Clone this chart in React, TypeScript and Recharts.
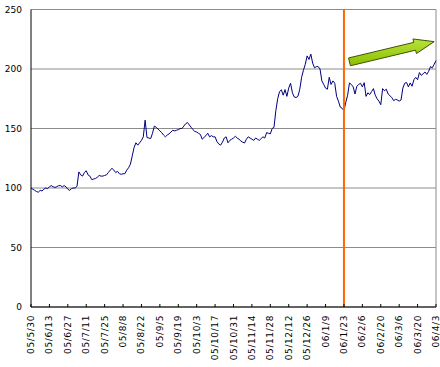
import React from 'react';
import { LineChart, Line, XAxis, YAxis, CartesianGrid, ReferenceLine } from 'recharts';

// Tick labels every 10 business days (two weeks)
const TICK_LABELS = [
  '05/5/30', '05/6/13', '05/6/27', '05/7/11', '05/7/25', '05/8/8', '05/8/22', '05/9/5',
  '05/9/19', '05/10/3', '05/10/17', '05/10/31', '05/11/14', '05/11/28', '05/12/12',
  '05/12/26', '06/1/9', '06/1/23', '06/2/6', '06/2/20', '06/3/6', '06/3/20', '06/4/3',
];

// Daily (business-day) index values
const VALUES = [
  100, 99, 98, 97, 96.5, 98, 97.5, 99, 100, 99.5,
  101, 102, 101, 100.5, 101, 102, 102, 101, 102, 101,
  99, 98, 99.5, 100, 100, 101.5, 113.5, 111, 110, 113,
  114.5, 111, 110, 107, 107.5, 108, 109, 110.5, 110, 110,
  110.5, 111, 113, 115, 116.5, 115, 113, 114, 112, 111.5,
  112, 112, 115, 117, 120, 127, 134, 138, 136, 138,
  140, 143, 157, 142.5, 142, 141.5, 146, 152, 151, 149.5,
  148, 146.5, 144.5, 143, 144.5, 145.5, 147, 148.5, 148, 148.5,
  149, 150, 150, 152, 154, 155, 153, 151, 149, 147.5,
  147, 146, 145, 141, 142.5, 144, 146, 143, 144, 143,
  143, 139, 137, 136, 138.5, 142, 143, 138, 140, 141,
  142, 143.5, 142, 141, 139.5, 138.5, 137.8, 141, 143, 142,
  141, 140, 142, 141, 140, 141.5, 143, 142, 146.5, 146,
  145.5, 150, 151, 165, 175, 181, 182.5, 178, 182.7, 177,
  184, 188, 180, 176.5, 176, 177, 183, 193, 199, 204,
  211, 208, 212.5, 205, 201, 202, 202, 200, 190, 187,
  184, 183, 193, 187, 190, 188, 177, 173, 168, 167,
  165, 172, 178, 188.3, 187, 185, 179, 185.5, 187, 188,
  185, 188.5, 177, 180, 178.5, 181, 183.5, 178, 175, 173,
  170, 183.5, 181.7, 183, 179, 177.5, 176, 173.4, 174.5, 174,
  173, 174, 184, 188, 188.7, 185, 188.3, 185.5, 191, 193,
  191, 197, 194.6, 196, 197.5, 195.5, 198, 202, 201, 204,
  207,
];

const Y_TICKS = [0, 50, 100, 150, 200, 250];
const MARKER_LABEL = '06/1/23';
const ARROW_FROM = { i: 173, v: 206 };
const ARROW_TO = { i: 219, v: 223 };

const data = VALUES.map((v, i) => ({ i, v }));
const xTicks = TICK_LABELS.map((_, k) => k * 10);
const markerX = TICK_LABELS.indexOf(MARKER_LABEL) * 10;

const FONT = '"DejaVu Sans", sans-serif';

const XTick = (props: any) => {
  const { x, y, payload } = props;
  const label = TICK_LABELS[Math.round(payload.value / 10)];
  return (
    <g>
      <line x1={x} y1={y - 3} x2={x} y2={y} stroke="#000" strokeWidth={1} />
      <text
        x={x}
        y={y + 8}
        transform={`rotate(-90, ${x}, ${y + 8})`}
        textAnchor="end"
        dominantBaseline="central"
        fontSize={9}
        letterSpacing={0.6}
        fontFamily={FONT}
        fill="#000"
      >
        {label}
      </text>
    </g>
  );
};

const ArrowShape = (props: any) => {
  const { x1, y1, x2, y2 } = props;
  if ([x1, y1, x2, y2].some((t) => typeof t !== 'number' || isNaN(t))) return null;
  const dx = x2 - x1;
  const dy = y2 - y1;
  const L = Math.sqrt(dx * dx + dy * dy);
  const ux = dx / L;
  const uy = dy / L;
  const nx = -uy;
  const ny = ux;
  const w = 4;
  const h = 7.5;
  const hl = 20;
  const bx = x2 - ux * hl;
  const by = y2 - uy * hl;
  const pts = [
    [x1 + nx * w, y1 + ny * w],
    [bx + nx * w, by + ny * w],
    [bx + nx * h, by + ny * h],
    [x2, y2],
    [bx - nx * h, by - ny * h],
    [bx - nx * w, by - ny * w],
    [x1 - nx * w, y1 - ny * w],
  ]
    .map((p) => `${p[0]},${p[1]}`)
    .join(' ');
  return (
    <g>
      <defs>
        <linearGradient id="arrowGrad" x1="0" y1="0" x2="0" y2="1">
          <stop offset="0%" stopColor="#b8e23a" />
          <stop offset="100%" stopColor="#8cbf00" />
        </linearGradient>
      </defs>
      <polygon points={pts} fill="url(#arrowGrad)" stroke="#3f5200" strokeWidth={1} strokeLinejoin="miter" />
    </g>
  );
};

export default function App() {
  return (
    <div style={{ position: 'absolute', left: 0, top: 0, width: 440, height: 367, background: '#fff' }}>
      <LineChart
        width={440}
        height={367}
        data={data}
        margin={{ top: 9.5, right: 4, left: 0, bottom: 0 }}
      >
        <CartesianGrid horizontal vertical={false} stroke="#8c8c8c" strokeWidth={1} />
        <XAxis
          dataKey="i"
          type="number"
          domain={[0, 220]}
          ticks={xTicks}
          interval={0}
          height={60}
          tickSize={0}
          tickMargin={0}
          tickLine={false}
          axisLine={{ stroke: '#000', strokeWidth: 1 }}
          tick={<XTick />}
        />
        <YAxis
          domain={[0, 250]}
          ticks={Y_TICKS}
          interval={0}
          width={31}
          tickSize={0}
          tickMargin={9}
          tickLine={false}
          axisLine={{ stroke: '#000', strokeWidth: 1 }}
          tick={{ fontSize: 9, fontFamily: FONT, fill: '#000' }}
        />
        <ReferenceLine x={220} stroke="#8c8c8c" strokeWidth={1} />
        <Line
          type="linear"
          dataKey="v"
          stroke="#000080"
          strokeWidth={1}
          dot={false}
          isAnimationActive={false}
        />
        <ReferenceLine x={markerX} stroke="#ff6600" strokeWidth={2} />
        <ReferenceLine
          segment={[
            { x: ARROW_FROM.i, y: ARROW_FROM.v },
            { x: ARROW_TO.i, y: ARROW_TO.v },
          ]}
          shape={<ArrowShape />}
        />
      </LineChart>
    </div>
  );
}
